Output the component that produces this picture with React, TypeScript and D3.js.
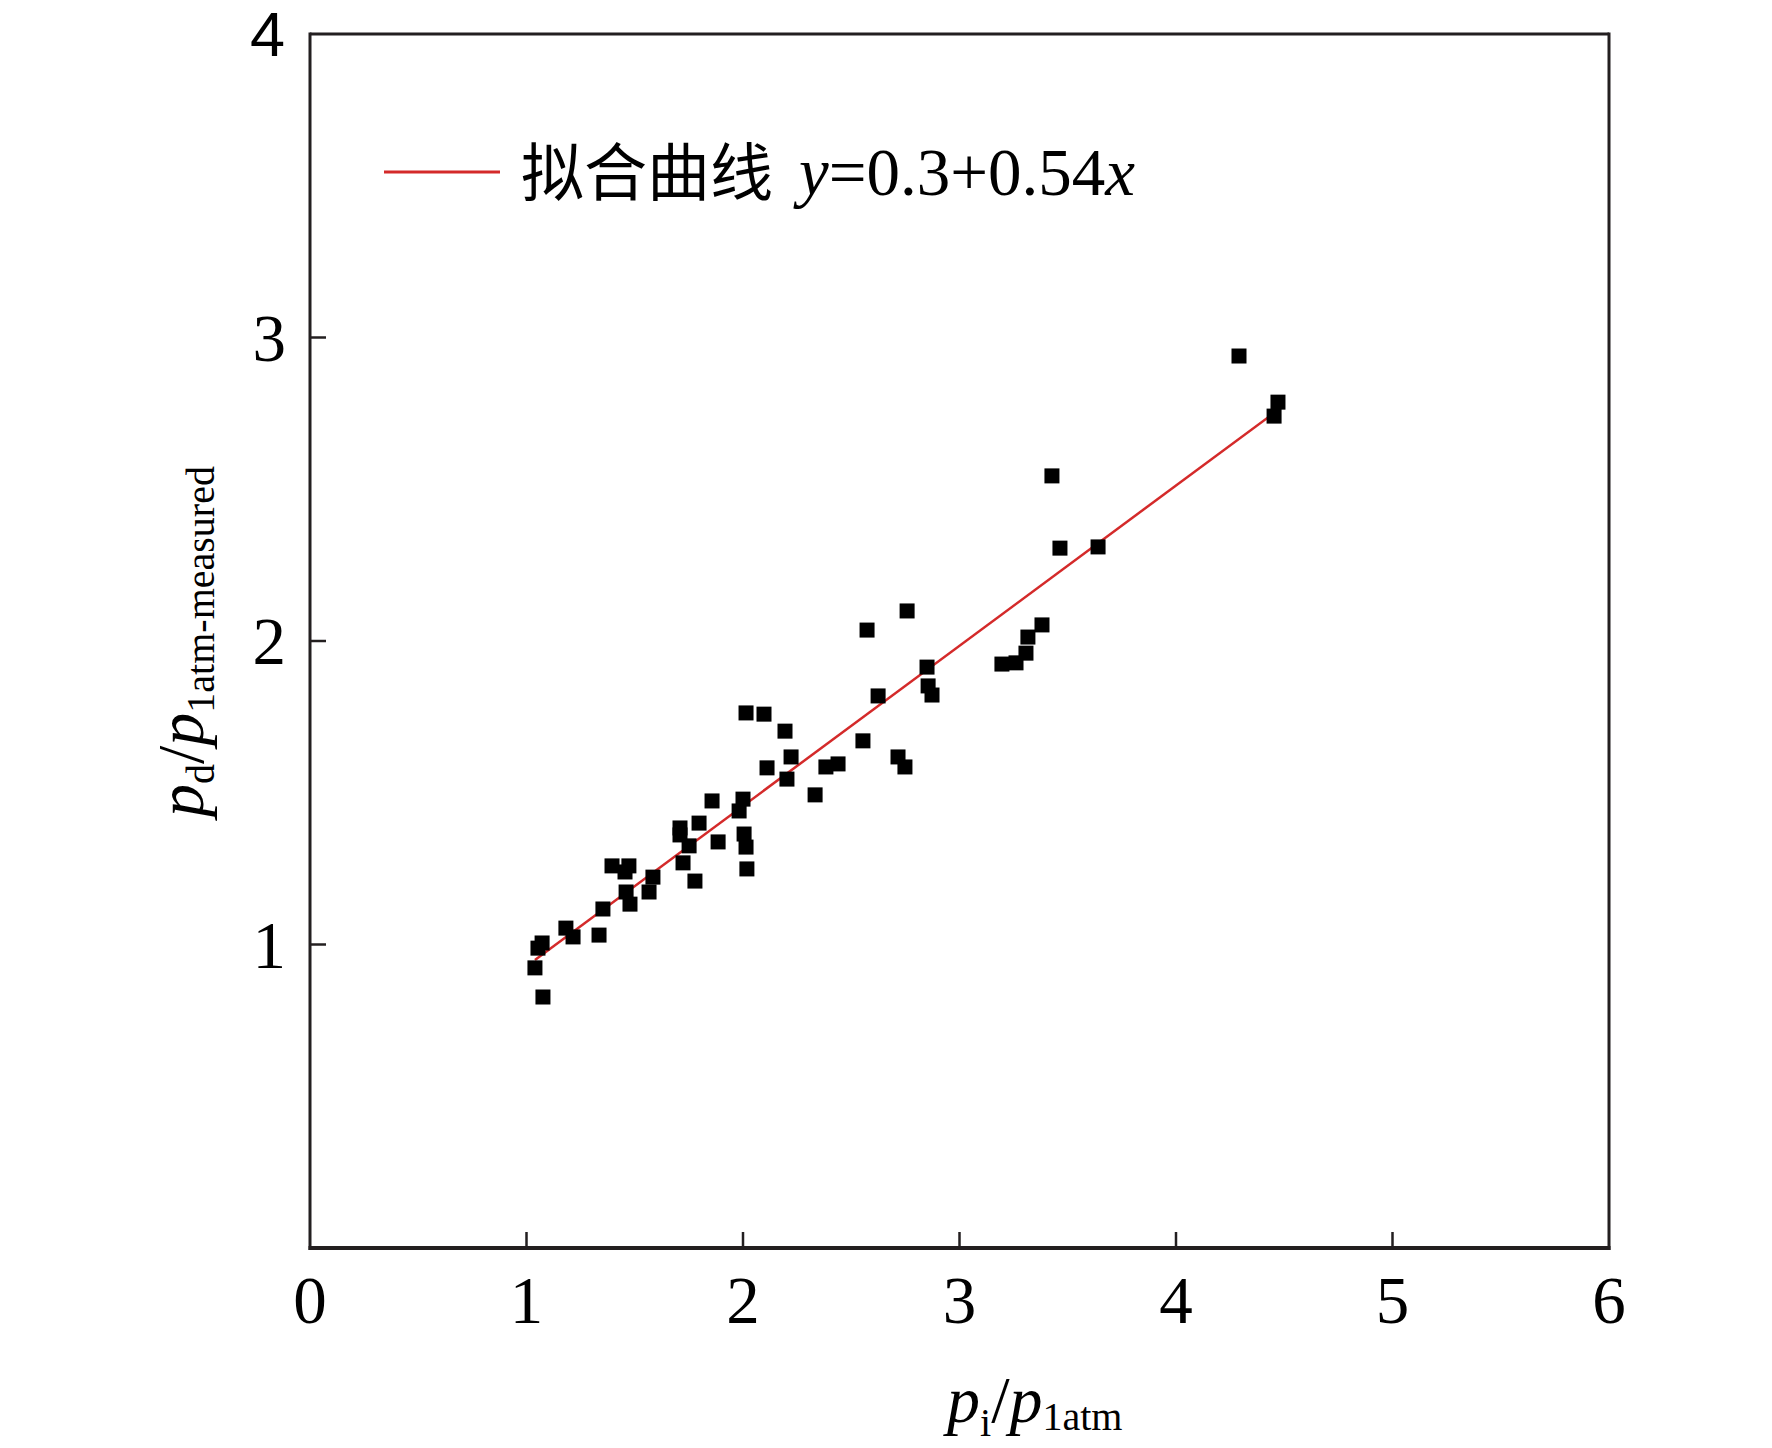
import React from "react";
import * as d3 from "d3";

// measured points (p_i/p_1atm, p_d/p_1atm-measured)
const xData = [
  1.039, 1.076, 1.053, 1.072, 1.182, 1.215, 1.335, 1.353, 1.395, 1.455, 1.473, 1.46, 1.478, 1.566, 1.584,
  1.709, 1.709, 1.723, 1.751, 1.778, 1.797, 1.857, 1.885, 2.0, 1.982, 2.005, 2.014, 2.018, 2.014, 2.097,
  2.194, 2.111, 2.222, 2.203, 2.333, 2.383, 2.439, 2.554, 2.624, 2.716, 2.748, 2.85, 2.855, 2.873, 3.196,
  3.261, 3.307, 3.316, 3.381, 3.427, 3.464, 3.64, 4.291, 4.471, 4.453, 2.573, 2.758,
];
const yData = [
  0.923, 0.827, 0.988, 1.005, 1.054, 1.025, 1.031, 1.117, 1.259, 1.239, 1.259, 1.173, 1.133, 1.173, 1.222,
  1.384, 1.361, 1.269, 1.325, 1.209, 1.4, 1.473, 1.338, 1.479, 1.44, 1.364, 1.321, 1.249, 1.763, 1.759,
  1.703, 1.582, 1.618, 1.545, 1.493, 1.585, 1.595, 1.671, 1.819, 1.618, 1.585, 1.914, 1.852, 1.822, 1.924,
  1.928, 1.96, 2.013, 2.053, 2.544, 2.306, 2.31, 2.939, 2.787, 2.741, 2.036, 2.099,
];
// fitted line as drawn
const fitX = [1.039, 4.471];
const fitY = [0.949, 2.761];

const xTickValues = [0, 1, 2, 3, 4, 5, 6];
const xTickLabels = ["0", "1", "2", "3", "4", "5", "6"];
const yTickValues = [1, 2, 3, 4];
const yTickLabels = ["1", "2", "3", "4"];
const legendLabel = "拟合曲线";

const SERIF = '"Liberation Serif", "Times New Roman", serif';
const SANS = '"Liberation Sans", Arial, sans-serif';
const CJK = '"Noto Sans CJK SC", sans-serif';

export default function App() {
  const W = 1772;
  const H = 1448;
  const left = 310, right = 1609, top = 34, bottom = 1248;
  const x = d3.scaleLinear().domain([0, 6]).range([left, right]);
  const y = d3.scaleLinear().domain([0, 4]).range([bottom, top]);
  const fitPath = d3
    .line<number>()
    .x((d) => x(fitX[d]))
    .y((d) => y(fitY[d]))(fitX.map((_, i) => i)) as string;
  const axisColor = "#231f20";
  const sq = 15;

  return (
    <svg
      width={W}
      height={H}
      viewBox={`0 0 ${W} ${H}`}
      style={{ position: "absolute", left: 0, top: 0, background: "#fff" }}
    >
      <rect x={0} y={0} width={W} height={H} fill="#fff" />
      {/* frame */}
      <line x1={left} y1={top} x2={right} y2={top} stroke={axisColor} strokeWidth={3} />
      <line x1={left} y1={top - 1.5} x2={left} y2={bottom + 2} stroke={axisColor} strokeWidth={3} />
      <line x1={right} y1={top - 1.5} x2={right} y2={bottom + 2} stroke={axisColor} strokeWidth={3} />
      <line x1={left - 1.5} y1={bottom} x2={right + 1.5} y2={bottom} stroke={axisColor} strokeWidth={4} />

      {/* x ticks */}
      {xTickValues.map((v, i) => (
        <g key={"xt" + i}>
          {v > 0 && v < 6 && (
            <line x1={x(v)} y1={bottom} x2={x(v)} y2={bottom - 16} stroke={axisColor} strokeWidth={2.5} />
          )}
          <text x={x(v)} y={1323} textAnchor="middle" fontFamily={SERIF} fontSize={67} fill="#000">
            {xTickLabels[i]}
          </text>
        </g>
      ))}

      {/* y ticks */}
      {yTickValues.map((v, i) => (
        <g key={"yt" + i}>
          {v < 4 && (
            <line x1={left} y1={y(v)} x2={left + 16} y2={y(v)} stroke={axisColor} strokeWidth={2.5} />
          )}
          {v < 4 ? (
            <text x={286} y={y(v) + 23} textAnchor="end" fontFamily={SERIF} fontSize={67} fill="#000">
              {yTickLabels[i]}
            </text>
          ) : (
            <text x={285} y={y(v) + 22} textAnchor="end" fontFamily={SANS} fontSize={63} fill="#000">
              {yTickLabels[i]}
            </text>
          )}
        </g>
      ))}

      {/* fitted line */}
      <path d={fitPath} stroke="#d42a2a" strokeWidth={2.5} fill="none" />

      {/* points */}
      {xData.map((xv, i) => (
        <rect
          key={"p" + i}
          x={x(xv) - sq / 2}
          y={y(yData[i]) - sq / 2}
          width={sq}
          height={sq}
          fill="#000"
        />
      ))}

      {/* legend */}
      <line x1={384} y1={172} x2={500} y2={172} stroke="#d42a2a" strokeWidth={3} />
      <text x={521} y={195} fontFamily={CJK} fontSize={63} fill="#000">
        {legendLabel}
      </text>
      <text x={799} y={195} fontFamily={SERIF} fontSize={67} fill="#000">
        <tspan fontStyle="italic">y</tspan>
        <tspan>=0.3+0.54</tspan>
        <tspan fontStyle="italic">x</tspan>
      </text>

      {/* x axis label */}
      <text x={947} y={1422} fontFamily={SERIF} fontSize={66} fill="#000">
        <tspan fontStyle="italic">p</tspan>
        <tspan fontSize={40} dy={14}>i</tspan>
        <tspan dy={-14}>/</tspan>
        <tspan fontStyle="italic">p</tspan>
        <tspan fontSize={40} dy={8}>1atm</tspan>
      </text>

      {/* y axis label */}
      <text transform={`translate(203,817) rotate(-90)`} fontFamily={SERIF} fontSize={66} fill="#000">
        <tspan fontStyle="italic">p</tspan>
        <tspan fontSize={40} dy={11}>d</tspan>
        <tspan dy={-11}>/</tspan>
        <tspan fontStyle="italic">p</tspan>
        <tspan fontSize={40} dy={11}>1atm-measured</tspan>
      </text>
    </svg>
  );
}
